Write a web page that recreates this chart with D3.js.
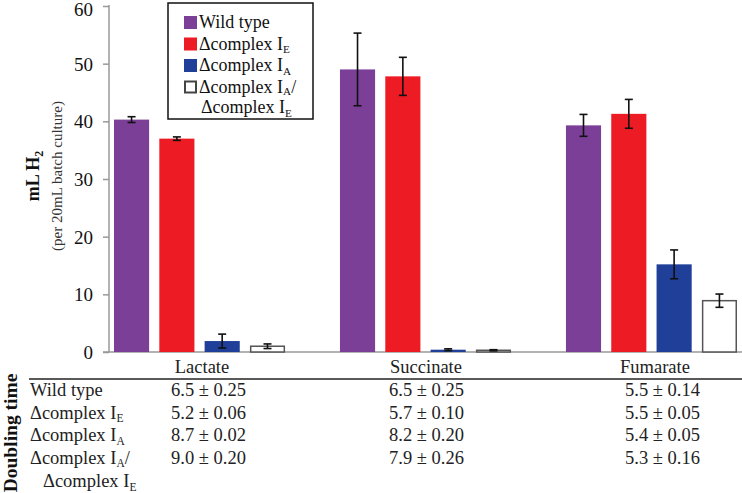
<!DOCTYPE html>
<html>
<head>
<meta charset="utf-8">
<script src="https://cdn.jsdelivr.net/npm/d3@7"></script>
<style>
  html, body { margin: 0; padding: 0; background: #fff; }
  svg { display: block; font-family: "Liberation Serif", "Times New Roman", serif; }
  svg text { font-family: "Liberation Serif", "Times New Roman", serif; }
</style>
</head>
<body>
<svg id="chart" width="742" height="493"></svg>
<script>
// ---- data ----
const categories = ["Lactate", "Succinate", "Fumarate"];
const seriesNames = ["Wild type", "Δcomplex I_E", "Δcomplex I_A", "Δcomplex I_A/ Δcomplex I_E"];
const wildType      = [40.3, 49.0, 39.3];
const wildTypeErr   = [0.5, 6.3, 1.9];
const complexIE     = [37.0, 47.8, 41.3];
const complexIEErr  = [0.3, 3.3, 2.5];
const complexIA     = [1.9, 0.4, 15.2];
const complexIAErr  = [1.2, 0.15, 2.5];
const complexIAIE   = [1.0, 0.3, 8.9];
const complexIAIEErr= [0.4, 0.1, 1.15];
const yTicks = [0, 10, 20, 30, 40, 50, 60];
const doublingRows = ["Wild type", "Δcomplex I_E", "Δcomplex I_A", "Δcomplex I_A/"];
const doublingLactate   = ["6.5 ± 0.25", "5.2 ± 0.06", "8.7 ± 0.02", "9.0 ± 0.20"];
const doublingSuccinate = ["6.5 ± 0.25", "5.7 ± 0.10", "8.2 ± 0.20", "7.9 ± 0.26"];
const doublingFumarate  = ["5.5 ± 0.14", "5.5 ± 0.05", "5.4 ± 0.05", "5.3 ± 0.16"];

const seriesValues = [wildType, complexIE, complexIA, complexIAIE];
const seriesErrors = [wildTypeErr, complexIEErr, complexIAErr, complexIAIEErr];
const fills   = ["#7c3f97", "#ed1c24", "#1f3f98", "#ffffff"];
const strokes = ["none", "none", "none", "#555555"];

const svg = d3.select("#chart");

// helper: write text with "_X" subscripts
function subText(sel, str, size, shift) {
  const sh = shift == null ? 3.5 : shift;
  sel.attr("font-family", "Liberation Serif");
  const parts = str.split(/_(\w)/);
  parts.forEach((p, i) => {
    if (i % 2 === 0) {
      if (p) sel.append("tspan").text(p).attr("font-size", size).attr("dy", i === 0 ? 0 : -sh);
    } else {
      sel.append("tspan").text(p).attr("font-size", size * 0.62).attr("dy", sh);
    }
  });
}

// ---- scales ----
const y = d3.scaleLinear().domain([0, 60]).range([352, 6]);
const x0 = d3.scaleBand().domain(categories).range([114, 737]).paddingInner(0.243).paddingOuter(0);
const x1 = d3.scaleBand().domain(d3.range(4)).range([0, x0.bandwidth()]).paddingInner(0.225).paddingOuter(0);

// ---- y axis ----
const yAxis = d3.axisLeft(y).tickValues(yTicks).tickSize(6).tickFormat(d3.format("d"));
const ga = svg.append("g").attr("transform", "translate(109,0)").call(yAxis)
  .attr("font-family", "Liberation Serif");
ga.select(".domain").attr("stroke", "#999").attr("stroke-width", 1.5).attr("d", "M0,5V352");
ga.selectAll(".tick line").attr("stroke", "#999").attr("stroke-width", 1.5);
ga.selectAll(".tick text").attr("font-size", 19)
  .attr("fill", "#111").attr("x", -16).attr("dy", d => d === 60 ? "0.5em" : "0.34em");

// baseline
svg.append("line").attr("x1", 103).attr("x2", 742).attr("y1", y(0)).attr("y2", y(0))
  .attr("stroke", "#999").attr("stroke-width", 1.5);

// y title
const yt = svg.append("text").attr("transform", "translate(39,176) rotate(-90)")
  .attr("text-anchor", "middle").attr("font-weight", "bold").attr("fill", "#111");
yt.append("tspan").text("mL H").attr("font-size", 18);
yt.append("tspan").text("2").attr("font-size", 12).attr("dy", 4);
svg.append("text").attr("transform", "translate(62,176) rotate(-90)")
  .attr("text-anchor", "middle").attr("font-size", 15).attr("fill", "#333")
  .text("(per 20mL batch culture)");

// ---- bars ----
seriesValues.forEach((vals, s) => {
  const g = svg.append("g");
  categories.forEach((c, i) => {
    const bx = x0(c) + x1(s);
    const bw = x1.bandwidth();
    const v = vals[i];
    const isWhite = s === 3;
    g.append("rect")
      .attr("x", bx + (isWhite ? 0.75 : 0)).attr("y", y(v))
      .attr("width", bw - (isWhite ? 1.5 : 0)).attr("height", y(0) - y(v))
      .attr("fill", fills[s]).attr("stroke", strokes[s]).attr("stroke-width", 1.5);
    const e = seriesErrors[s][i];
    const cx = bx + bw / 2;
    const eg = svg.append("g").attr("stroke", "#111").attr("stroke-width", 1.6);
    eg.append("line").attr("x1", cx).attr("x2", cx).attr("y1", y(v + e)).attr("y2", y(v - e));
    eg.append("line").attr("x1", cx - 4).attr("x2", cx + 4).attr("y1", y(v + e)).attr("y2", y(v + e));
    eg.append("line").attr("x1", cx - 4).attr("x2", cx + 4).attr("y1", y(v - e)).attr("y2", y(v - e));
  });
});

// ---- legend ----
const lg = svg.append("g");
lg.append("rect").attr("x", 168).attr("y", 3).attr("width", 145).attr("height", 116)
  .attr("fill", "#fff").attr("stroke", "#111").attr("stroke-width", 1.5);
const legendLabels = ["Wild type", "Δcomplex I_E", "Δcomplex I_A", "Δcomplex I_A/"];
legendLabels.forEach((lab, i) => {
  const cy = 22.5 + i * 21.5;
  lg.append("rect").attr("x", 184 + (i === 3 ? 1 : 0)).attr("y", cy - 6.5 + (i === 3 ? 1 : 0))
    .attr("width", 13 - (i === 3 ? 2 : 0)).attr("height", 13 - (i === 3 ? 2 : 0))
    .attr("fill", fills[i]).attr("stroke", i === 3 ? "#444" : "none").attr("stroke-width", 2);
  const t = lg.append("text").attr("x", 199).attr("y", cy + 5.5).attr("fill", "#111");
  subText(t, lab, 18, i === 3 ? 2.5 : 3.5);
});
const lt2 = lg.append("text").attr("x", 201).attr("y", 113).attr("fill", "#111");
subText(lt2, "Δcomplex I_E", 18);

// ---- category labels ----
const catCenters = [202, 426, 655];
categories.forEach((c, i) => {
  svg.append("text").attr("x", catCenters[i]).attr("y", 373).attr("text-anchor", "middle")
    .attr("font-size", 18.5).attr("fill", "#222").text(c);
});

// table rule
svg.append("line").attr("x1", 29).attr("x2", 742).attr("y1", 379).attr("y2", 379)
  .attr("stroke", "#222").attr("stroke-width", 1.5);

// ---- doubling time table ----
svg.append("text").attr("transform", "translate(17,433) rotate(-90)").attr("text-anchor", "middle")
  .attr("font-weight", "bold").attr("font-size", 19.5).attr("fill", "#111").text("Doubling time");

const rowY = [396, 418.5, 441, 463.5];
doublingRows.forEach((r, i) => {
  const t = svg.append("text").attr("x", 30).attr("y", rowY[i]).attr("fill", "#222");
  subText(t, r, 18.5);
});
const t5 = svg.append("text").attr("x", 43).attr("y", 487).attr("fill", "#222");
subText(t5, "Δcomplex I_E", 18.5);

const colX = [171, 389, 625];
[doublingLactate, doublingSuccinate, doublingFumarate].forEach((col, j) => {
  col.forEach((v, i) => {
    svg.append("text").attr("x", colX[j]).attr("y", rowY[i]).attr("font-size", 18.5)
      .attr("fill", "#222").text(v);
  });
});
</script>
</body>
</html>
